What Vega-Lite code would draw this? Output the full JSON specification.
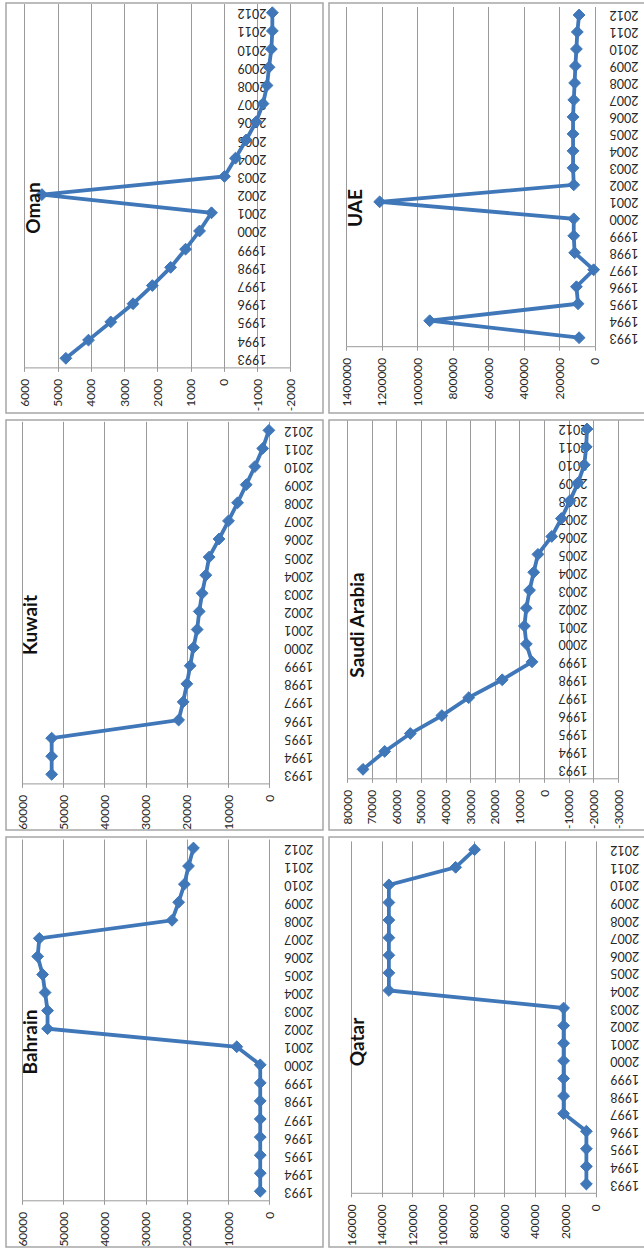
{
  "$schema": "https://vega.github.io/schema/vega-lite/v6.json",
  "autosize": {"type": "pad"},
  "padding": {"left": 5, "top": 2, "right": 0, "bottom": 0},
  "background": "#ffffff",
  "config": {
    "view": {"stroke": "#a6a6a6", "strokeWidth": 1.5},
    "axis": {"labelFont": "Lato", "labelColor": "#262626", "title": null, "labelOverlap": false, "labelFlush": false}
  },
  "datasets": {
    "gcc": [
      {"country": "Oman", "year": 1993, "value": 4750},
      {"country": "Oman", "year": 1994, "value": 4070},
      {"country": "Oman", "year": 1995, "value": 3400},
      {"country": "Oman", "year": 1996, "value": 2730},
      {"country": "Oman", "year": 1997, "value": 2150},
      {"country": "Oman", "year": 1998, "value": 1600},
      {"country": "Oman", "year": 1999, "value": 1150},
      {"country": "Oman", "year": 2000, "value": 730},
      {"country": "Oman", "year": 2001, "value": 370},
      {"country": "Oman", "year": 2002, "value": 5470},
      {"country": "Oman", "year": 2003, "value": -20},
      {"country": "Oman", "year": 2004, "value": -350},
      {"country": "Oman", "year": 2005, "value": -670},
      {"country": "Oman", "year": 2006, "value": -970},
      {"country": "Oman", "year": 2007, "value": -1180},
      {"country": "Oman", "year": 2008, "value": -1300},
      {"country": "Oman", "year": 2009, "value": -1360},
      {"country": "Oman", "year": 2010, "value": -1430},
      {"country": "Oman", "year": 2011, "value": -1460},
      {"country": "Oman", "year": 2012, "value": -1460},
      {"country": "UAE", "year": 1993, "value": 88000},
      {"country": "UAE", "year": 1994, "value": 930000},
      {"country": "UAE", "year": 1995, "value": 94000},
      {"country": "UAE", "year": 1996, "value": 103000},
      {"country": "UAE", "year": 1997, "value": 6000},
      {"country": "UAE", "year": 1998, "value": 113000},
      {"country": "UAE", "year": 1999, "value": 118000},
      {"country": "UAE", "year": 2000, "value": 118000},
      {"country": "UAE", "year": 2001, "value": 1212000},
      {"country": "UAE", "year": 2002, "value": 118000},
      {"country": "UAE", "year": 2003, "value": 122000},
      {"country": "UAE", "year": 2004, "value": 122000},
      {"country": "UAE", "year": 2005, "value": 122000},
      {"country": "UAE", "year": 2006, "value": 122000},
      {"country": "UAE", "year": 2007, "value": 118000},
      {"country": "UAE", "year": 2008, "value": 113000},
      {"country": "UAE", "year": 2009, "value": 109000},
      {"country": "UAE", "year": 2010, "value": 103000},
      {"country": "UAE", "year": 2011, "value": 98000},
      {"country": "UAE", "year": 2012, "value": 88000},
      {"country": "Kuwait", "year": 1993, "value": 52800},
      {"country": "Kuwait", "year": 1994, "value": 52800},
      {"country": "Kuwait", "year": 1995, "value": 52800},
      {"country": "Kuwait", "year": 1996, "value": 22000},
      {"country": "Kuwait", "year": 1997, "value": 20900},
      {"country": "Kuwait", "year": 1998, "value": 20000},
      {"country": "Kuwait", "year": 1999, "value": 19200},
      {"country": "Kuwait", "year": 2000, "value": 18400},
      {"country": "Kuwait", "year": 2001, "value": 17500},
      {"country": "Kuwait", "year": 2002, "value": 17000},
      {"country": "Kuwait", "year": 2003, "value": 16300},
      {"country": "Kuwait", "year": 2004, "value": 15400},
      {"country": "Kuwait", "year": 2005, "value": 14600},
      {"country": "Kuwait", "year": 2006, "value": 12200},
      {"country": "Kuwait", "year": 2007, "value": 9900},
      {"country": "Kuwait", "year": 2008, "value": 7700},
      {"country": "Kuwait", "year": 2009, "value": 5600},
      {"country": "Kuwait", "year": 2010, "value": 3500},
      {"country": "Kuwait", "year": 2011, "value": 1600},
      {"country": "Kuwait", "year": 2012, "value": 100},
      {"country": "Saudi Arabia", "year": 1993, "value": 73500},
      {"country": "Saudi Arabia", "year": 1994, "value": 64700},
      {"country": "Saudi Arabia", "year": 1995, "value": 54300},
      {"country": "Saudi Arabia", "year": 1996, "value": 41500},
      {"country": "Saudi Arabia", "year": 1997, "value": 30600},
      {"country": "Saudi Arabia", "year": 1998, "value": 17000},
      {"country": "Saudi Arabia", "year": 1999, "value": 4900},
      {"country": "Saudi Arabia", "year": 2000, "value": 7200},
      {"country": "Saudi Arabia", "year": 2001, "value": 8000},
      {"country": "Saudi Arabia", "year": 2002, "value": 7200},
      {"country": "Saudi Arabia", "year": 2003, "value": 5900},
      {"country": "Saudi Arabia", "year": 2004, "value": 4200},
      {"country": "Saudi Arabia", "year": 2005, "value": 2500},
      {"country": "Saudi Arabia", "year": 2006, "value": -3100},
      {"country": "Saudi Arabia", "year": 2007, "value": -7000},
      {"country": "Saudi Arabia", "year": 2008, "value": -10500},
      {"country": "Saudi Arabia", "year": 2009, "value": -13800},
      {"country": "Saudi Arabia", "year": 2010, "value": -16300},
      {"country": "Saudi Arabia", "year": 2011, "value": -17100},
      {"country": "Saudi Arabia", "year": 2012, "value": -17400},
      {"country": "Bahrain", "year": 1993, "value": 2200},
      {"country": "Bahrain", "year": 1994, "value": 2200},
      {"country": "Bahrain", "year": 1995, "value": 2200},
      {"country": "Bahrain", "year": 1996, "value": 2200},
      {"country": "Bahrain", "year": 1997, "value": 2200},
      {"country": "Bahrain", "year": 1998, "value": 2200},
      {"country": "Bahrain", "year": 1999, "value": 2200},
      {"country": "Bahrain", "year": 2000, "value": 2200},
      {"country": "Bahrain", "year": 2001, "value": 7900},
      {"country": "Bahrain", "year": 2002, "value": 53800},
      {"country": "Bahrain", "year": 2003, "value": 53800},
      {"country": "Bahrain", "year": 2004, "value": 54400},
      {"country": "Bahrain", "year": 2005, "value": 55000},
      {"country": "Bahrain", "year": 2006, "value": 56200},
      {"country": "Bahrain", "year": 2007, "value": 55800},
      {"country": "Bahrain", "year": 2008, "value": 23600},
      {"country": "Bahrain", "year": 2009, "value": 22000},
      {"country": "Bahrain", "year": 2010, "value": 20600},
      {"country": "Bahrain", "year": 2011, "value": 19600},
      {"country": "Bahrain", "year": 2012, "value": 18400},
      {"country": "Qatar", "year": 1993, "value": 6100},
      {"country": "Qatar", "year": 1994, "value": 6100},
      {"country": "Qatar", "year": 1995, "value": 6100},
      {"country": "Qatar", "year": 1996, "value": 6100},
      {"country": "Qatar", "year": 1997, "value": 21000},
      {"country": "Qatar", "year": 1998, "value": 21000},
      {"country": "Qatar", "year": 1999, "value": 21000},
      {"country": "Qatar", "year": 2000, "value": 21000},
      {"country": "Qatar", "year": 2001, "value": 21000},
      {"country": "Qatar", "year": 2002, "value": 21000},
      {"country": "Qatar", "year": 2003, "value": 21000},
      {"country": "Qatar", "year": 2004, "value": 135400},
      {"country": "Qatar", "year": 2005, "value": 135400},
      {"country": "Qatar", "year": 2006, "value": 135400},
      {"country": "Qatar", "year": 2007, "value": 135400},
      {"country": "Qatar", "year": 2008, "value": 135400},
      {"country": "Qatar", "year": 2009, "value": 135400},
      {"country": "Qatar", "year": 2010, "value": 135400},
      {"country": "Qatar", "year": 2011, "value": 91700},
      {"country": "Qatar", "year": 2012, "value": 79300}
    ]
  },
  "data": {"name": "gcc"},
  "columns": 2,
  "spacing": {"row": 7, "column": 6},
  "bounds": "flush",
  "concat": [
    {
      "width": 317, "height": 410,
      "title": {"text": "Oman", "orient": "left", "anchor": "middle", "angle": 270, "baseline": "alphabetic", "offset": -53, "font": "Lato", "fontSize": 19, "fontWeight": "bold", "color": "#111111"},
      "transform": [{"filter": "datum.country === 'Oman'"}],
      "encoding": {
        "y": {"field": "year", "type": "quantitative",
              "scale": {"domain": [1992.5, 2012.5], "range": [364.4, 0.6], "nice": false, "zero": false},
              "axis": {"orient": "right", "offset": -86, "grid": false, "domain": false, "ticks": false, "tickSize": 0, "labelPadding": 0, "labelAngle": 180, "labelAlign": "right", "labelBaseline": "middle", "labelFontSize": 12.5, "values": [1993,1994,1995,1996,1997,1998,1999,2000,2001,2002,2003,2004,2005,2006,2007,2008,2009,2010,2011,2012], "labelExpr": "'' + datum.value"}}
      },
      "layer": [
        {
          "mark": {"type": "line", "color": "#3F77B9", "strokeWidth": 3.8},
          "encoding": {
            "x": {"field": "value", "type": "quantitative",
                  "scale": {"domain": [-2000, 6000], "range": [284.3, 18.3], "nice": false, "zero": false},
                  "axis": {"orient": "bottom", "offset": -45.6, "grid": false, "domainColor": "#9a9a9a", "tickColor": "#9a9a9a", "tickSize": 4, "labelAngle": 270, "labelAlign": "right", "labelBaseline": "middle", "labelPadding": 7, "labelFontSize": 12, "values": [-2000,-1000,0,1000,2000,3000,4000,5000,6000], "labelExpr": "'' + datum.value"}},
            "order": {"field": "year", "type": "quantitative"}
          }
        },
        {
          "mark": {"type": "point", "shape": "diamond", "filled": true, "size": 140, "color": "#3F77B9", "stroke": "#3F77B9", "strokeWidth": 1, "opacity": 1},
          "encoding": {
            "x": {"field": "value", "type": "quantitative",
                  "axis": {"orient": "top", "grid": true, "gridColor": "#9a9a9a", "gridWidth": 1, "labels": false, "ticks": false, "domain": false, "values": [-2000,-1000,0,1000,2000,3000,4000,5000,6000]}}
          }
        }
      ],
      "resolve": {"axis": {"x": "independent"}}
    },
    {
      "width": 317, "height": 410,
      "title": {"text": "UAE", "orient": "left", "anchor": "middle", "angle": 270, "baseline": "alphabetic", "offset": -52, "font": "Lato", "fontSize": 19, "fontWeight": "bold", "color": "#111111"},
      "transform": [{"filter": "datum.country === 'UAE'"}],
      "encoding": {
        "y": {"field": "year", "type": "quantitative",
              "scale": {"domain": [1992.5, 2012.5], "range": [343.2, 3.5], "nice": false, "zero": false},
              "axis": {"orient": "right", "offset": -37, "grid": false, "domain": false, "ticks": false, "tickSize": 0, "labelPadding": 0, "labelAngle": 180, "labelAlign": "right", "labelBaseline": "middle", "labelFontSize": 12.5, "values": [1993,1994,1995,1996,1997,1998,1999,2000,2001,2002,2003,2004,2005,2006,2007,2008,2009,2010,2011,2012], "labelExpr": "'' + datum.value"}}
      },
      "layer": [
        {
          "mark": {"type": "line", "color": "#3F77B9", "strokeWidth": 3.8},
          "encoding": {
            "x": {"field": "value", "type": "quantitative",
                  "scale": {"domain": [0, 1400000], "range": [265.7, 17.3], "nice": false, "zero": false},
                  "axis": {"orient": "bottom", "offset": -66.8, "grid": false, "domainColor": "#9a9a9a", "tickColor": "#9a9a9a", "tickSize": 4, "labelAngle": 270, "labelAlign": "right", "labelBaseline": "middle", "labelPadding": 7, "labelFontSize": 12, "values": [0,200000,400000,600000,800000,1000000,1200000,1400000], "labelExpr": "'' + datum.value"}},
            "order": {"field": "year", "type": "quantitative"}
          }
        },
        {
          "mark": {"type": "point", "shape": "diamond", "filled": true, "size": 140, "color": "#3F77B9", "stroke": "#3F77B9", "strokeWidth": 1, "opacity": 1},
          "encoding": {
            "x": {"field": "value", "type": "quantitative",
                  "axis": {"orient": "top", "grid": true, "gridColor": "#9a9a9a", "gridWidth": 1, "labels": false, "ticks": false, "domain": false, "values": [0,200000,400000,600000,800000,1000000,1200000,1400000]}}
          }
        }
      ],
      "resolve": {"axis": {"x": "independent"}}
    },
    {
      "width": 317, "height": 410,
      "title": {"text": "Kuwait", "orient": "left", "anchor": "middle", "angle": 270, "baseline": "alphabetic", "offset": -50, "font": "Lato", "fontSize": 19, "fontWeight": "bold", "color": "#111111"},
      "transform": [{"filter": "datum.country === 'Kuwait'"}],
      "encoding": {
        "y": {"field": "year", "type": "quantitative",
              "scale": {"domain": [1992.5, 2012.5], "range": [363.4, 1.3], "nice": false, "zero": false},
              "axis": {"orient": "right", "offset": -39.3, "grid": false, "domain": false, "ticks": false, "tickSize": 0, "labelPadding": 0, "labelAngle": 180, "labelAlign": "right", "labelBaseline": "middle", "labelFontSize": 12.5, "values": [1993,1994,1995,1996,1997,1998,1999,2000,2001,2002,2003,2004,2005,2006,2007,2008,2009,2010,2011,2012], "labelExpr": "'' + datum.value"}}
      },
      "layer": [
        {
          "mark": {"type": "line", "color": "#3F77B9", "strokeWidth": 3.8},
          "encoding": {
            "x": {"field": "value", "type": "quantitative",
                  "scale": {"domain": [0, 60000], "range": [263.3, 16], "nice": false, "zero": false},
                  "axis": {"orient": "bottom", "offset": -46.6, "grid": false, "domainColor": "#9a9a9a", "tickColor": "#9a9a9a", "tickSize": 4, "labelAngle": 270, "labelAlign": "right", "labelBaseline": "middle", "labelPadding": 7, "labelFontSize": 12, "values": [0,10000,20000,30000,40000,50000,60000], "labelExpr": "'' + datum.value"}},
            "order": {"field": "year", "type": "quantitative"}
          }
        },
        {
          "mark": {"type": "point", "shape": "diamond", "filled": true, "size": 140, "color": "#3F77B9", "stroke": "#3F77B9", "strokeWidth": 1, "opacity": 1},
          "encoding": {
            "x": {"field": "value", "type": "quantitative",
                  "axis": {"orient": "top", "grid": true, "gridColor": "#9a9a9a", "gridWidth": 1, "labels": false, "ticks": false, "domain": false, "values": [0,10000,20000,30000,40000,50000,60000]}}
          }
        }
      ],
      "resolve": {"axis": {"x": "independent"}}
    },
    {
      "width": 317, "height": 410,
      "title": {"text": "Saudi Arabia", "orient": "left", "anchor": "middle", "angle": 270, "baseline": "alphabetic", "offset": -53.5, "font": "Lato", "fontSize": 19, "fontWeight": "bold", "color": "#111111"},
      "transform": [{"filter": "datum.country === 'Saudi Arabia'"}],
      "encoding": {
        "y": {"field": "year", "type": "quantitative",
              "scale": {"domain": [1992.5, 2012.5], "range": [358.3, 0], "nice": false, "zero": false},
              "axis": {"orient": "right", "offset": -88, "grid": false, "domain": false, "ticks": false, "tickSize": 0, "labelPadding": 0, "labelAngle": 180, "labelAlign": "right", "labelBaseline": "middle", "labelFontSize": 12.5, "values": [1993,1994,1995,1996,1997,1998,1999,2000,2001,2002,2003,2004,2005,2006,2007,2008,2009,2010,2011,2012], "labelExpr": "'' + datum.value"}}
      },
      "layer": [
        {
          "mark": {"type": "line", "color": "#3F77B9", "strokeWidth": 3.8},
          "encoding": {
            "x": {"field": "value", "type": "quantitative",
                  "scale": {"domain": [-30000, 80000], "range": [289, 18], "nice": false, "zero": false},
                  "axis": {"orient": "bottom", "offset": -51.7, "grid": false, "domainColor": "#9a9a9a", "tickColor": "#9a9a9a", "tickSize": 4, "labelAngle": 270, "labelAlign": "right", "labelBaseline": "middle", "labelPadding": 7, "labelFontSize": 12, "values": [-30000,-20000,-10000,0,10000,20000,30000,40000,50000,60000,70000,80000], "labelExpr": "'' + datum.value"}},
            "order": {"field": "year", "type": "quantitative"}
          }
        },
        {
          "mark": {"type": "point", "shape": "diamond", "filled": true, "size": 140, "color": "#3F77B9", "stroke": "#3F77B9", "strokeWidth": 1, "opacity": 1},
          "encoding": {
            "x": {"field": "value", "type": "quantitative",
                  "axis": {"orient": "top", "grid": true, "gridColor": "#9a9a9a", "gridWidth": 1, "labels": false, "ticks": false, "domain": false, "values": [-30000,-20000,-10000,0,10000,20000,30000,40000,50000,60000,70000,80000]}}
          }
        }
      ],
      "resolve": {"axis": {"x": "independent"}}
    },
    {
      "width": 317, "height": 410,
      "title": {"text": "Bahrain", "orient": "left", "anchor": "middle", "angle": 270, "baseline": "alphabetic", "offset": -50, "font": "Lato", "fontSize": 19, "fontWeight": "bold", "color": "#111111"},
      "transform": [{"filter": "datum.country === 'Bahrain'"}],
      "encoding": {
        "y": {"field": "year", "type": "quantitative",
              "scale": {"domain": [1992.5, 2012.5], "range": [363.3, 2], "nice": false, "zero": false},
              "axis": {"orient": "right", "offset": -39.3, "grid": false, "domain": false, "ticks": false, "tickSize": 0, "labelPadding": 0, "labelAngle": 180, "labelAlign": "right", "labelBaseline": "middle", "labelFontSize": 12.5, "values": [1993,1994,1995,1996,1997,1998,1999,2000,2001,2002,2003,2004,2005,2006,2007,2008,2009,2010,2011,2012], "labelExpr": "'' + datum.value"}}
      },
      "layer": [
        {
          "mark": {"type": "line", "color": "#3F77B9", "strokeWidth": 3.8},
          "encoding": {
            "x": {"field": "value", "type": "quantitative",
                  "scale": {"domain": [0, 60000], "range": [263.3, 16], "nice": false, "zero": false},
                  "axis": {"orient": "bottom", "offset": -46.7, "grid": false, "domainColor": "#9a9a9a", "tickColor": "#9a9a9a", "tickSize": 4, "labelAngle": 270, "labelAlign": "right", "labelBaseline": "middle", "labelPadding": 7, "labelFontSize": 12, "values": [0,10000,20000,30000,40000,50000,60000], "labelExpr": "'' + datum.value"}},
            "order": {"field": "year", "type": "quantitative"}
          }
        },
        {
          "mark": {"type": "point", "shape": "diamond", "filled": true, "size": 140, "color": "#3F77B9", "stroke": "#3F77B9", "strokeWidth": 1, "opacity": 1},
          "encoding": {
            "x": {"field": "value", "type": "quantitative",
                  "axis": {"orient": "top", "grid": true, "gridColor": "#9a9a9a", "gridWidth": 1, "labels": false, "ticks": false, "domain": false, "values": [0,10000,20000,30000,40000,50000,60000]}}
          }
        }
      ],
      "resolve": {"axis": {"x": "independent"}}
    },
    {
      "width": 317, "height": 410,
      "title": {"text": "Qatar", "orient": "left", "anchor": "middle", "angle": 270, "baseline": "alphabetic", "offset": -54, "font": "Lato", "fontSize": 19, "fontWeight": "bold", "color": "#111111"},
      "transform": [{"filter": "datum.country === 'Qatar'"}],
      "encoding": {
        "y": {"field": "year", "type": "quantitative",
              "scale": {"domain": [1992.5, 2012.5], "range": [355.8, 3.9], "nice": false, "zero": false},
              "axis": {"orient": "right", "offset": -36.3, "grid": false, "domain": false, "ticks": false, "tickSize": 0, "labelPadding": 0, "labelAngle": 180, "labelAlign": "right", "labelBaseline": "middle", "labelFontSize": 12.5, "values": [1993,1994,1995,1996,1997,1998,1999,2000,2001,2002,2003,2004,2005,2006,2007,2008,2009,2010,2011,2012], "labelExpr": "'' + datum.value"}}
      },
      "layer": [
        {
          "mark": {"type": "line", "color": "#3F77B9", "strokeWidth": 3.8},
          "encoding": {
            "x": {"field": "value", "type": "quantitative",
                  "scale": {"domain": [0, 160000], "range": [266.7, 22.3], "nice": false, "zero": false},
                  "axis": {"orient": "bottom", "offset": -54.2, "grid": false, "domainColor": "#9a9a9a", "tickColor": "#9a9a9a", "tickSize": 4, "labelAngle": 270, "labelAlign": "right", "labelBaseline": "middle", "labelPadding": 7, "labelFontSize": 12, "values": [0,20000,40000,60000,80000,100000,120000,140000,160000], "labelExpr": "'' + datum.value"}},
            "order": {"field": "year", "type": "quantitative"}
          }
        },
        {
          "mark": {"type": "point", "shape": "diamond", "filled": true, "size": 140, "color": "#3F77B9", "stroke": "#3F77B9", "strokeWidth": 1, "opacity": 1},
          "encoding": {
            "x": {"field": "value", "type": "quantitative",
                  "axis": {"orient": "top", "grid": true, "gridColor": "#9a9a9a", "gridWidth": 1, "labels": false, "ticks": false, "domain": false, "values": [0,20000,40000,60000,80000,100000,120000,140000,160000]}}
          }
        }
      ],
      "resolve": {"axis": {"x": "independent"}}
    }
  ]
}
